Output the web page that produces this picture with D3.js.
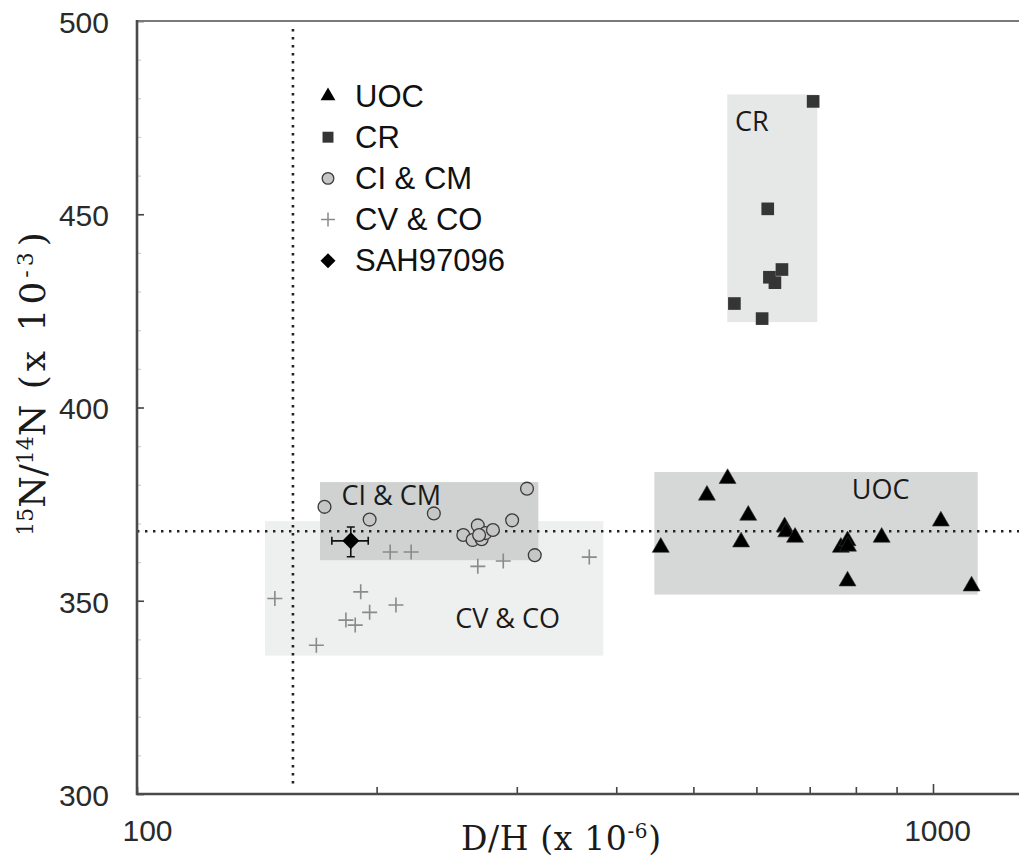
<!DOCTYPE html>
<html>
<head>
<meta charset="utf-8">
<script src="https://cdn.jsdelivr.net/npm/d3@7"></script>
<style>
  html, body { margin: 0; padding: 0; background: #fff; }
  svg { display: block; }
</style>
</head>
<body>
<svg id="chart" width="1019" height="864"></svg>
<script>
// ---- Data ----
// D/H (x 1e-6) and 15N/14N (x 1e-3)
const uocDH  = [455, 520, 552, 586, 574, 651, 654, 671, 766, 781, 782, 781, 862, 1023, 1118];
const uocN   = [363.8, 377.3, 381.6, 372.1, 365.2, 369.1, 367.8, 366.4, 363.8, 365.5, 364.1, 355.1, 366.4, 370.6, 353.8];

const crDH   = [707, 620, 646, 633, 623, 563, 610];
const crN    = [479.2, 451.4, 435.7, 432.3, 433.7, 426.9, 423.0];

const cicmDH = [172, 196, 236, 309, 296, 316, 257, 268, 264, 271, 274, 280, 269];
const cicmN  = [374.3, 371.0, 372.6, 379.0, 370.8, 361.8, 367.0, 369.5, 365.7, 365.9, 367.5, 368.3, 367.0];

const cvcoDH = [149, 168, 191, 196, 183, 188, 211.5, 208, 221, 268, 288.5, 370];
const cvcoN  = [350.6, 338.5, 352.3, 347.0, 345.0, 343.7, 348.9, 362.6, 362.6, 358.9, 360.3, 361.3];

const sahDH  = [185.6];
const sahN   = [365.5];
const sahDHerr = [[175.7, 195.2]];
const sahNerr  = [[361.4, 369.1]];

// Shaded group ranges: [DHmin, DHmax, Nmin, Nmax]
const boxNames  = ["CV & CO", "CI & CM", "UOC", "CR"];
const boxRanges = [[144.8, 385.3, 335.8, 370.6], [169.8, 319.3, 360.5, 380.7], [446.6, 1138, 351.6, 383.3], [551.5, 715.6, 422.1, 481.0]];
const boxLabelAt = [[251, 342.9], [180.7, 374.7], [790.5, 376.4], [564, 471.5]];

// Terrestrial reference values
const refDH = 157;
const refN  = 368;

// Axis ticks
const xTicks = [100, 200, 300, 400, 500, 600, 700, 800, 900, 1000];
const xTickLabels = ["100", "", "", "", "", "", "", "", "", "1000"];
const yTicks = [300, 350, 400, 450, 500];
const yMinorTicks = d3.range(300, 501, 10);

const legendNames = ["UOC", "CR", "CI & CM", "CV & CO", "SAH97096"];

// ---- Layout ----
const svg = d3.select("#chart");
const L = 137, R = 1019, T = 21, B = 794;

const x = d3.scaleLog().domain([100, 1000]).range([L, 933]);
const y = d3.scaleLinear().domain([300, 500]).range([B, T]);

const boxColors = ["#eeefef", "#d0d1d1", "#d6d7d7", "#e6e7e7"];

// Boxes
const gBox = svg.append("g");
boxRanges.forEach((b, i) => {
  gBox.append("rect")
    .attr("x", x(b[0])).attr("y", y(b[3]))
    .attr("width", x(b[1]) - x(b[0])).attr("height", y(b[2]) - y(b[3]))
    .attr("fill", boxColors[i]);
});
boxNames.forEach((n, i) => {
  gBox.append("text")
    .attr("x", x(boxLabelAt[i][0])).attr("y", y(boxLabelAt[i][1]))
    .attr("font-family", "'Open Sans', sans-serif")
    .attr("font-size", 27).attr("fill", "#1a1a1a")
    .text(n);
});

// Reference dotted lines
svg.append("line")
  .attr("x1", x(refDH)).attr("x2", x(refDH))
  .attr("y1", T + 8).attr("y2", B - 6)
  .attr("stroke", "#222").attr("stroke-width", 2.6)
  .attr("stroke-dasharray", "2.4,5.6");
svg.append("line")
  .attr("x1", L).attr("x2", R)
  .attr("y1", y(refN)).attr("y2", y(refN))
  .attr("stroke", "#222").attr("stroke-width", 2.6)
  .attr("stroke-dasharray", "2.4,5.6");

// Axes
const xAxis = d3.axisBottom(x).tickValues(xTicks)
  .tickFormat((d, i) => xTickLabels[i]).tickSizeInner(-7).tickSizeOuter(0).tickPadding(26);
const gx = svg.append("g").attr("transform", `translate(0,${B})`).call(xAxis);
gx.select(".domain").remove();
gx.selectAll(".tick line").attr("stroke", "#444").attr("stroke-width", 1.6);
gx.selectAll(".tick").filter(d => d === 1000).select("line").attr("y2", -10);
gx.selectAll(".tick text")
  .attr("font-family", "'Liberation Sans', Arial, sans-serif")
  .attr("font-size", 30).attr("fill", "#2a2a2a")
  .attr("dx", d => d === 100 ? 10 : 4);

const yMinor = d3.axisLeft(y).tickValues(yMinorTicks).tickSizeInner(-4).tickSizeOuter(0).tickFormat("");
const gym = svg.append("g").attr("transform", `translate(${L},0)`).call(yMinor);
gym.select(".domain").remove();
gym.selectAll(".tick line").attr("stroke", "#ccc").attr("stroke-width", 1.2);

const yAxis = d3.axisLeft(y).tickValues(yTicks).tickSizeInner(-7).tickSizeOuter(0).tickPadding(28);
const gy = svg.append("g").attr("transform", `translate(${L},0)`).call(yAxis);
gy.select(".domain").remove();
gy.selectAll(".tick line").attr("stroke", "#444").attr("stroke-width", 1.6);
gy.selectAll(".tick text")
  .attr("font-family", "'Liberation Sans', Arial, sans-serif")
  .attr("font-size", 30).attr("fill", "#2a2a2a").attr("dy", "0.38em");

// Frame lines
svg.append("line").attr("x1", L).attr("x2", R).attr("y1", T).attr("y2", T)
  .attr("stroke", "#7a7a7a").attr("stroke-width", 2);
svg.append("line").attr("x1", L).attr("x2", L).attr("y1", T - 1).attr("y2", B + 1)
  .attr("stroke", "#4a4a4a").attr("stroke-width", 2.6);
svg.append("line").attr("x1", L - 1).attr("x2", R).attr("y1", B).attr("y2", B)
  .attr("stroke", "#4a4a4a").attr("stroke-width", 2.6);

// Axis titles
svg.append("text")
  .attr("x", 561).attr("y", 850)
  .attr("text-anchor", "middle")
  .attr("textLength", 200).attr("lengthAdjust", "spacing")
  .attr("font-family", "'DejaVu Serif', serif").attr("font-size", 33).attr("fill", "#1a1a1a")
  .html('D/H (x 10<tspan baseline-shift="super" font-size="20">-6</tspan>)');

svg.append("text")
  .attr("transform", "translate(45,384) rotate(-90)")
  .attr("text-anchor", "middle")
  .attr("font-family", "'DejaVu Serif', serif").attr("font-size", 36).attr("fill", "#1a1a1a")
  .html('<tspan baseline-shift="super" font-size="22">15</tspan>N/<tspan baseline-shift="super" font-size="22">14</tspan>N<tspan letter-spacing="4"> (x 10</tspan><tspan baseline-shift="super" font-size="22" letter-spacing="4">-3</tspan><tspan dx="2">)</tspan>');

// Symbols
const tri = d3.symbol().type(d3.symbolTriangle).size(125);
const sq  = d3.symbol().type(d3.symbolSquare).size(160);
const diamondPath = s => `M0,${-s}L${s},0L0,${s}L${-s},0Z`;

// CV & CO crosses
const gCross = svg.append("g");
cvcoDH.forEach((d, i) => {
  const cx = x(d), cy = y(cvcoN[i]), s = 7.5;
  gCross.append("path")
    .attr("d", `M${cx - s},${cy}H${cx + s}M${cx},${cy - s}V${cy + s}`)
    .attr("stroke", "#8a8a8a").attr("stroke-width", 1.6).attr("fill", "none");
});

// CI & CM circles
svg.append("g").selectAll("circle").data(cicmDH).join("circle")
  .attr("cx", d => x(d)).attr("cy", (d, i) => y(cicmN[i])).attr("r", 6.4)
  .attr("fill", "#c6c6c6").attr("stroke", "#3a3a3a").attr("stroke-width", 1.3);

// CR squares
svg.append("g").selectAll("path").data(crDH).join("path")
  .attr("d", sq)
  .attr("transform", (d, i) => `translate(${x(d)},${y(crN[i])})`)
  .attr("fill", "#353535");

// UOC triangles
svg.append("g").selectAll("path").data(uocDH).join("path")
  .attr("d", tri)
  .attr("transform", (d, i) => `translate(${x(d)},${y(uocN[i])})`)
  .attr("fill", "#000").attr("stroke", "#333").attr("stroke-width", 0.6);

// SAH97096 with error bars
const gS = svg.append("g");
sahDH.forEach((d, i) => {
  const cx = x(d), cy = y(sahN[i]);
  const x0 = x(sahDHerr[i][0]), x1 = x(sahDHerr[i][1]);
  const y0 = y(sahNerr[i][0]), y1 = y(sahNerr[i][1]);
  gS.append("path")
    .attr("d", `M${x0},${cy}H${x1}M${x0},${cy - 4}V${cy + 4}M${x1},${cy - 4}V${cy + 4}` +
               `M${cx},${y0}V${y1}M${cx - 4},${y0}H${cx + 4}M${cx - 4},${y1}H${cx + 4}`)
    .attr("stroke", "#111").attr("stroke-width", 1.6).attr("fill", "none");
  gS.append("path").attr("d", diamondPath(8.5)).attr("transform", `translate(${cx},${cy})`).attr("fill", "#000");
});

// Legend
const lg = svg.append("g");
const legY0 = 96, legStep = 41.2, legSX = 328, legTX = 355;
legendNames.forEach((n, i) => {
  const cy = legY0 + i * legStep;
  if (i === 0) lg.append("path").attr("d", d3.symbol().type(d3.symbolTriangle).size(95)).attr("transform", `translate(${legSX},${cy})`).attr("fill", "#000");
  if (i === 1) lg.append("path").attr("d", d3.symbol().type(d3.symbolSquare).size(120)).attr("transform", `translate(${legSX},${cy})`).attr("fill", "#353535");
  if (i === 2) lg.append("circle").attr("cx", legSX).attr("cy", cy).attr("r", 5.8).attr("fill", "#c6c6c6").attr("stroke", "#3a3a3a").attr("stroke-width", 1.3);
  if (i === 3) lg.append("path").attr("d", `M${legSX - 7},${cy}H${legSX + 7}M${legSX},${cy - 7}V${cy + 7}`).attr("stroke", "#8a8a8a").attr("stroke-width", 1.5);
  if (i === 4) lg.append("path").attr("d", diamondPath(7.5)).attr("transform", `translate(${legSX},${cy})`).attr("fill", "#000");
  lg.append("text")
    .attr("x", legTX).attr("y", cy + 10.5)
    .attr("font-family", "'Liberation Sans', Arial, sans-serif")
    .attr("font-size", 31).attr("fill", "#111")
    .text(n);
});
</script>
</body>
</html>
